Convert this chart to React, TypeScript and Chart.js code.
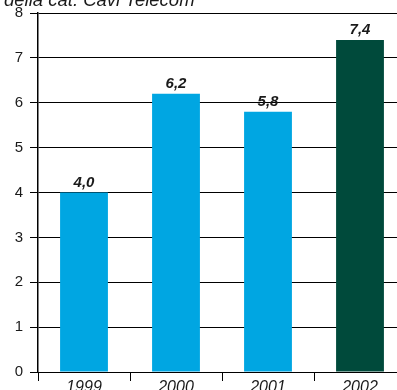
import React, { useEffect, useRef } from "react";
import { Chart, registerables } from "chart.js";

Chart.register(...registerables);

const categories = ["1999", "2000", "2001", "2002"];
const values = [4.0, 6.2, 5.8, 7.4];
const barColors = ["#00A6E2", "#00A6E2", "#00A6E2", "#004A3B"];
const yTicks = [0, 1, 2, 3, 4, 5, 6, 7, 8];
const titleText = "della cat. Cavi Telecom";

const FONT = "'Liberation Sans', Arial, Helvetica, sans-serif";

export default function App() {
  const ref = useRef<HTMLCanvasElement | null>(null);

  useEffect(() => {
    if (!ref.current) return;
    const labelPlugin = {
      id: "valueLabels",
      afterDatasetsDraw(chart: any) {
        const ctx = chart.ctx;
        const meta = chart.getDatasetMeta(0);
        ctx.save();
        ctx.fillStyle = "#1a1a1a";
        ctx.font = `italic bold 15px ${FONT}`;
        ctx.textAlign = "center";
        ctx.textBaseline = "alphabetic";
        meta.data.forEach((bar: any, i: number) => {
          const v = values[i];
          ctx.fillText(v.toFixed(1).replace(".", ","), bar.x, bar.y - 6);
        });
        ctx.restore();
      },
      afterDraw(chart: any) {
        const ctx = chart.ctx;
        ctx.save();
        ctx.fillStyle = "#1a1a1a";
        ctx.font = `italic 18.5px ${FONT}`;
        ctx.textAlign = "left";
        ctx.textBaseline = "alphabetic";
        ctx.fillText(titleText, 4, 6);
        ctx.restore();
      },
    };

    const chart = new Chart(ref.current, {
      type: "bar",
      data: {
        labels: categories,
        datasets: [
          {
            data: values,
            backgroundColor: barColors,
            borderWidth: 0,
            categoryPercentage: 1,
            barPercentage: 0.52,
          },
        ],
      },
      options: {
        responsive: false,
        animation: false,
        layout: { padding: { top: 13, right: 14, left: 0, bottom: 0 } },
        plugins: {
          legend: { display: false },
          tooltip: { enabled: false },
          title: { display: false },
        },
        scales: {
          x: {
            offset: true,
            grid: {
              offset: true,
              drawOnChartArea: false,
              drawTicks: true,
              tickLength: 9,
              color: "#000",
              lineWidth: 1,
            },
            border: { display: true, color: "#000", width: 1 },
            ticks: {
              color: "#1a1a1a",
              padding: -3,
              font: { family: FONT, size: 16, style: "italic" },
              maxRotation: 0,
            },
            afterFit(scale: any) {
              scale.height = 18;
              scale.paddingLeft = 0;
              scale.paddingRight = 0;
            },
          },
          y: {
            min: 0,
            max: 8,
            afterBuildTicks(scale: any) {
              scale.ticks = yTicks.map((v) => ({ value: v }));
            },
            grid: {
              color: "#000",
              lineWidth: 1,
              drawTicks: true,
              tickLength: 8,
            },
            border: { display: true, color: "#000", width: 1.5 },
            ticks: {
              color: "#1a1a1a",
              padding: 7,
              font: { family: FONT, size: 15 },
            },
            afterFit(scale: any) {
              scale.width = 38;
              scale.paddingTop = 0;
              scale.paddingBottom = 0;
            },
          },
        },
      },
      plugins: [labelPlugin],
    });
    return () => chart.destroy();
  }, []);

  return (
    <div
      style={{
        position: "absolute",
        left: 0,
        top: 0,
        width: 397,
        height: 390,
        overflow: "hidden",
        background: "#fff",
      }}
    >
      <canvas
        ref={ref}
        width={420}
        height={390}
        style={{ display: "block", width: 420, height: 390 }}
      />
    </div>
  );
}
